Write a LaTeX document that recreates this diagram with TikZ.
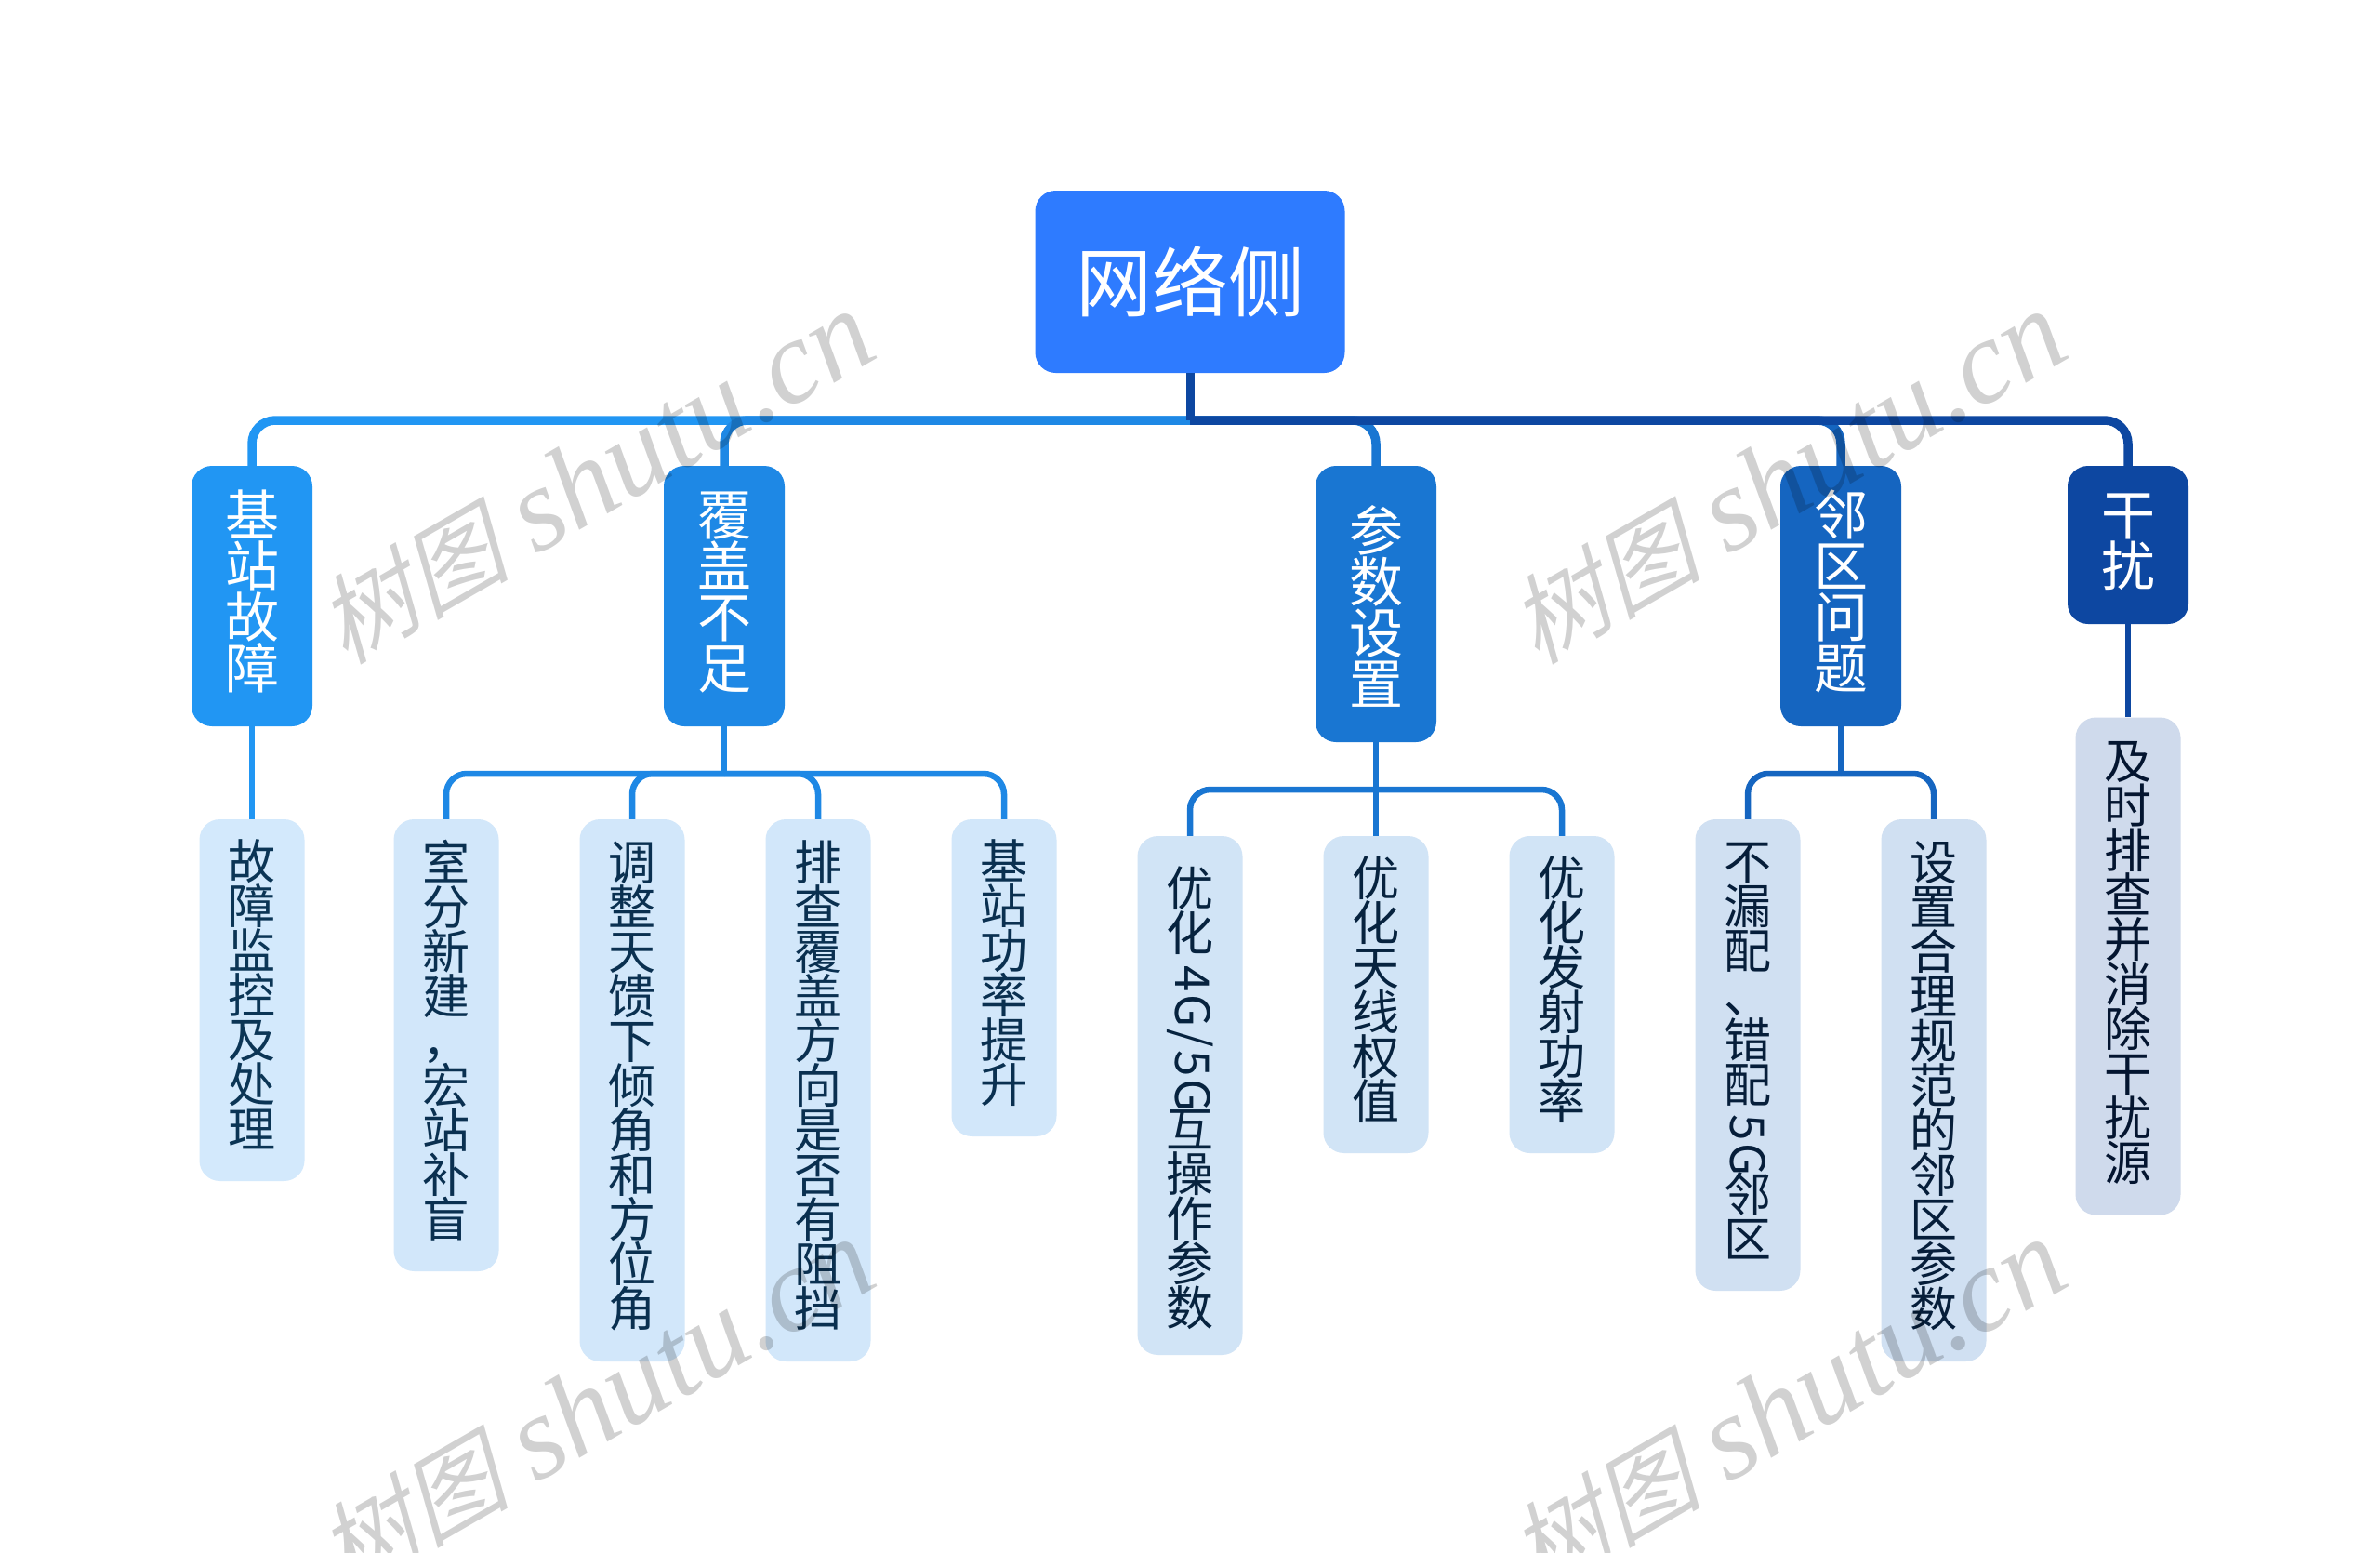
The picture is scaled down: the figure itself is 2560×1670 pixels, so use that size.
\documentclass[tikz,border=0pt]{standalone}
\usepackage{fontspec}
\setmainfont{Noto Sans CJK SC}
\newfontfamily\hcjk{Noto Sans CJK SC}
\newfontfamily\latsp[LetterSpace=5]{Noto Sans CJK SC}
\newfontfamily\wmcjk[FakeSlant=0.25]{Noto Sans CJK SC}
\newfontfamily\wmlat{Liberation Serif}
% vertical stack: every character sits in a cell \vp tall
\def\vp{48pt}
\def\vtloop#1{\ifx#1\vtend\else\ifcat\relax\noexpand#1 #1\else\hbox to 1em{\vrule height .8\dimexpr\vp\relax depth .2\dimexpr\vp\relax width 0pt\hss\smash{#1}\hss}\fi\expandafter\vtloop\fi}
\newcommand{\vt}[1]{\vbox{\offinterlineskip\vtloop#1\vtend}}
% sideways latin runs: cell height, top gap, text
\newcommand{\sidelat}[3]{\hbox to 1em{\hss\vrule height \dimexpr#1\relax depth 0pt width 0pt\raisebox{\dimexpr#1-#2\relax}{\rotatebox{-90}{\latsp #3}}\hss}}
\def\latA{\sidelat{162pt}{6pt}{4G/5G}}
\def\latB{\sidelat{70pt}{3pt}{5G}}
\def\padA{\kern16pt }
\def\padB{\kern18pt }
\definecolor{cA}{HTML}{2196F3}
\definecolor{cB}{HTML}{1E88E5}
\definecolor{cC}{HTML}{1976D2}
\definecolor{cD}{HTML}{1565C0}
\definecolor{cE}{HTML}{0D47A1}
\definecolor{rootblue}{HTML}{2E7BFF}
\definecolor{tA}{HTML}{D3E9FC}
\definecolor{tB}{HTML}{D2E7FA}
\definecolor{tC}{HTML}{D1E4F6}
\definecolor{tD}{HTML}{D0E0F2}
\definecolor{tE}{HTML}{CFDAEC}
\tikzset{
 rootbox/.style={fill=rootblue,rounded corners=22,inner sep=0,text=white,minimum width=333,minimum height=196,font=\hcjk\fontsize{82}{82}\selectfont},
 lone/.style={rounded corners=22,inner sep=0,text=white,minimum width=130,font=\hcjk\fontsize{58}{58}\selectfont\def\vp{55pt}},
 ltwo/.style={rounded corners=22,inner sep=0,minimum width=113,font=\hcjk\fontsize{51}{51}\selectfont\def\vp{48pt}},
 trunk/.style={line width=9.5,rounded corners=25},
 stemline/.style={line width=6.5},
 busline/.style={line width=6.5,rounded corners=22},
 wmark/.style={rotate=30,opacity=0.18,text=black,inner sep=0},
}
\newcommand{\wmtext}{{\fontsize{104}{104}\selectfont\wmcjk 树图}\hspace{28pt}{\fontsize{128}{128}\selectfont\wmlat\itshape shutu.cn}}
\begin{document}
\begin{tikzpicture}[x=1pt,y=-1pt]
\useasboundingbox (0,0) rectangle (2560,1670);
\clip (0,0) rectangle (2560,1670);
\fill[white] (0,0) rectangle (2560,1670);
\node[rootbox] (root) at (1280,303) {网络侧};
% level one
\node[lone,fill=cA,minimum height=280] (a) at (271,641) {\vt{基站故障}};
\node[lone,fill=cB,minimum height=280] (b) at (779,641) {\vt{覆盖不足}};
\node[lone,fill=cC,minimum height=297] (c) at (1480,649.5) {\vt{\padB 参数设置}};
\node[lone,fill=cD,minimum height=280] (d) at (1980,641) {\vt{邻区问题}};
\node[lone,fill=cE,minimum height=170] (e) at (2289,586) {\vt{干扰}};
% level two
\node[ltwo,fill=tA,text=cA!35!black,minimum height=389] (a1) at (271,1075.5) {\vt{故障监控及处理}};
\node[ltwo,fill=tB,text=cB!35!black,minimum height=486] (b1) at (480,1124) {\vt{室分新建，宏站补盲}};
\node[ltwo,fill=tB,text=cB!35!black,minimum height=583] (b2) at (680,1172.5) {\vt{调整天馈下倾角和方位角}};
\node[ltwo,fill=tB,text=cB!35!black,minimum height=583] (b3) at (880,1172.5) {\vt{排查覆盖方向是否有阻挡}};
\node[ltwo,fill=tB,text=cB!35!black,minimum height=341] (b4) at (1080,1051.5) {\vt{基站功率提升}};
\node[ltwo,fill=tC,text=cC!30!black,minimum height=558] (c1) at (1280,1178) {\vt{\padA 优化\latA 互操作参数}};
\node[ltwo,fill=tC,text=cC!30!black,minimum height=341] (c2) at (1480,1069.5) {\vt{优化天线权值}};
\node[ltwo,fill=tC,text=cC!30!black,minimum height=341] (c3) at (1680,1069.5) {\vt{优化发射功率}};
\node[ltwo,fill=tD,text=cD!30!black,minimum height=507] (d1) at (1880,1134.5) {\vt{不漏配、错配\latB 邻区}};
\node[ltwo,fill=tD,text=cD!30!black,minimum height=583] (d2) at (2080,1172.5) {\vt{设置合理规范的邻区参数}};
\node[ltwo,fill=tE,text=cE!30!black,minimum height=535] (e1) at (2289,1039) {\vt{及时排查并消除干扰源}};
% trunk
\coordinate (tk) at (1280,452);
\draw[trunk,cA] (tk) -| (a.north);
\draw[trunk,cB] (tk) -| (b.north);
\draw[trunk,cC] (tk) -| (c.north);
\draw[trunk,cD] (tk) -| (d.north);
\draw[trunk,cE] (tk) -| (e.north);
\draw[cE,line width=9] (root.south) -- (tk);
% branches
\draw[stemline,cA] (a.south) -- (a1.north);
\coordinate (bb) at (779,832);
\draw[stemline,cB] (b.south) -- (bb);
\draw[busline,cB] (bb) -| (b1.north);
\draw[busline,cB] (bb) -| (b2.north);
\draw[busline,cB] (bb) -| (b3.north);
\draw[busline,cB] (bb) -| (b4.north);
\coordinate (cb) at (1480,849);
\draw[stemline,cC] (c.south) -- (c2.north);
\draw[busline,cC] (cb) -| (c1.north);
\draw[busline,cC] (cb) -| (c3.north);
\coordinate (db) at (1980,832);
\draw[stemline,cD] (d.south) -- (db);
\draw[busline,cD] (db) -| (d1.north);
\draw[busline,cD] (db) -| (d2.north);
\draw[stemline,cE] (e.south) -- (e1.north);
% watermarks
\node[wmark] (w1) at (640,514) {\wmtext};
\node[wmark] (w2) at (1922,514) {\wmtext};
\node[wmark] (w3) at (640,1512) {\wmtext};
\node[wmark] (w4) at (1922,1512) {\wmtext};
\end{tikzpicture}
\end{document}
